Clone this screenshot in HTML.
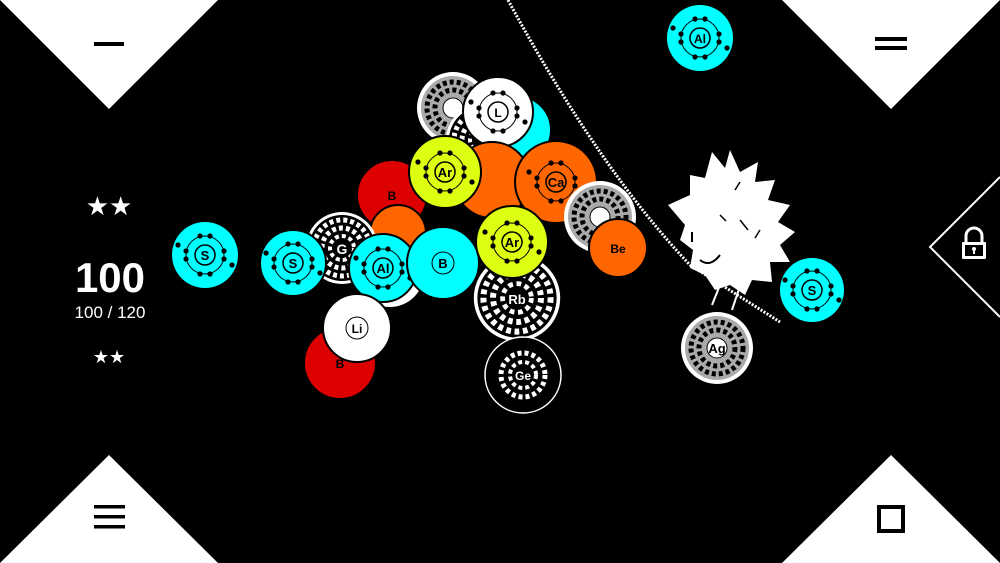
<!DOCTYPE html>
<html><head><meta charset="utf-8"><style>
html,body{margin:0;padding:0;background:#000;width:1000px;height:563px;overflow:hidden}
svg{display:block}
text{font-family:"Liberation Sans",sans-serif}
</style></head><body>
<svg width="1000" height="563" viewBox="0 0 1000 563" xmlns="http://www.w3.org/2000/svg">
<defs>
<g id="atom">
<circle r="10" fill="none" stroke="#000" stroke-width="1.5"/>
<circle r="19" fill="none" stroke="#000" stroke-width="1"/>
<circle cx="-5" cy="-19" r="2.6" fill="#000"/><circle cx="5" cy="-19" r="2.6" fill="#000"/>
<circle cx="19" cy="-4" r="2.6" fill="#000"/><circle cx="19" cy="4" r="2.6" fill="#000"/>
<circle cx="-19" cy="-4" r="2.6" fill="#000"/><circle cx="-19" cy="4" r="2.6" fill="#000"/>
<circle cx="-5" cy="19" r="2.6" fill="#000"/><circle cx="5" cy="19" r="2.6" fill="#000"/>
<circle cx="27" cy="10" r="2.6" fill="#000"/><circle cx="-27" cy="-10" r="2.6" fill="#000"/>
</g>
<g id="gray">
<circle r="36" fill="#fff"/><circle r="32" fill="#aaa"/>
<circle r="26" fill="none" stroke="#000" stroke-width="5" stroke-dasharray="4 3"/>
<circle r="18" fill="none" stroke="#000" stroke-width="5" stroke-dasharray="4 3"/>
<circle r="10" fill="#fff" stroke="#000"/>
</g>
<g id="whiteatom">
<circle r="36" fill="#fff"/><circle r="33" fill="#000"/>
<circle r="28" fill="none" stroke="#fff" stroke-width="5" stroke-dasharray="4 3"/>
<circle r="20" fill="none" stroke="#fff" stroke-width="5" stroke-dasharray="4 3"/>
<circle r="12" fill="none" stroke="#fff" stroke-width="4" stroke-dasharray="4 3"/>
</g>
</defs>

<!-- corner triangles -->
<polygon points="0,0 218,0 109,109" fill="#fff"/>
<polygon points="782,0 1000,0 891,109" fill="#fff"/>
<polygon points="0,563 218,563 109,455" fill="#fff"/>
<polygon points="782,563 1000,563 891,455" fill="#fff"/>
<rect x="94" y="42" width="30" height="4" fill="#000"/>
<rect x="875" y="37" width="32" height="4" fill="#000"/><rect x="875" y="46" width="32" height="4" fill="#000"/>
<rect x="94" y="505" width="31" height="3.5" fill="#000"/><rect x="94" y="515" width="31" height="3.5" fill="#000"/><rect x="94" y="525" width="31" height="3.5" fill="#000"/>
<rect x="879" y="507" width="24" height="24" fill="none" stroke="#000" stroke-width="4"/>
<polyline points="1000,177 930,247 1000,317" fill="none" stroke="#fff" stroke-width="2"/>
<rect x="962" y="242" width="24" height="17" fill="#fff" rx="1"/>
<rect x="965" y="245" width="18" height="11" fill="#000"/>
<path d="M966,242 v-6 a8,8 0 0 1 16,0 v6" fill="none" stroke="#fff" stroke-width="3"/>
<circle cx="974" cy="249" r="2" fill="#fff"/><rect x="973" y="249" width="2" height="5" fill="#fff"/>

<!-- score -->
<text x="109" y="215" fill="#fff" font-size="26" text-anchor="middle">★★</text>
<text x="110" y="292" fill="#fff" font-size="42" font-weight="bold" text-anchor="middle">100</text>
<text x="110" y="318" fill="#fff" font-size="17" text-anchor="middle">100 / 120</text>
<text x="109" y="363" fill="#fff" font-size="18" text-anchor="middle">★★</text>

<!-- rope -->
<path d="M508,0 Q600,170 690,265 L780,322" fill="none" stroke="#fff" stroke-width="3" stroke-dasharray="2 1.5"/>

<!-- back atoms -->
<use href="#gray" transform="translate(453,108)"/>
<use href="#whiteatom" transform="translate(482,140)"/>
<circle cx="517" cy="130" r="34" fill="#0ff" stroke="#000" stroke-width="2"/>
<circle cx="498" cy="112" r="35" fill="#fff" stroke="#000" stroke-width="2"/>
<use href="#atom" transform="translate(498,112)"/><text x="498" y="117" font-size="12" font-weight="bold" text-anchor="middle">L</text>
<circle cx="492" cy="180" r="38" fill="#f60" stroke="#000" stroke-width="2"/>
<circle cx="556" cy="182" r="41" fill="#f60" stroke="#000" stroke-width="2"/>
<use href="#atom" transform="translate(556,182)"/><text x="556" y="187" font-size="13" font-weight="bold" text-anchor="middle">Ca</text>
<use href="#gray" transform="translate(600,217)"/>
<circle cx="618" cy="248" r="29" fill="#f60" stroke="#000" stroke-width="2"/>
<text x="618" y="253" font-size="12" font-weight="bold" text-anchor="middle">Be</text>
<circle cx="392" cy="195" r="35" fill="#d00" stroke="#000" stroke-width="2"/>
<text x="392" y="200" font-size="12" font-weight="bold" text-anchor="middle">B</text>
<circle cx="445" cy="172" r="36" fill="#df1" stroke="#000" stroke-width="2"/>
<use href="#atom" transform="translate(445,172)"/><text x="445" y="177" font-size="13" font-weight="bold" text-anchor="middle">Ar</text>
<circle cx="398" cy="233" r="28" fill="#f60" stroke="#000" stroke-width="2"/>
<use href="#whiteatom" transform="translate(342,248)"/>
<text x="342" y="254" font-size="14" font-weight="bold" fill="#fff" text-anchor="middle">G</text>
<circle cx="293" cy="263" r="33" fill="#0ff" stroke="#000" stroke-width="2"/>
<use href="#atom" transform="translate(293,263)"/><text x="293" y="268" font-size="13" font-weight="bold" text-anchor="middle">S</text>
<circle cx="390" cy="273" r="34" fill="#fff"/>
<circle cx="383" cy="268" r="34" fill="#0ff" stroke="#000" stroke-width="2"/>
<use href="#atom" transform="translate(383,268)"/><text x="383" y="273" font-size="13" font-weight="bold" text-anchor="middle">Al</text>
<use href="#whiteatom" transform="translate(517,298) scale(1.2)"/>
<text x="517" y="304" font-size="13" font-weight="bold" fill="#fff" text-anchor="middle">Rb</text>
<circle cx="443" cy="263" r="36" fill="#0ff" stroke="#000" stroke-width="2"/>
<circle cx="443" cy="263" r="11" fill="none" stroke="#000"/><text x="443" y="268" font-size="13" font-weight="bold" text-anchor="middle">B</text>
<circle cx="512" cy="242" r="36" fill="#df1" stroke="#000" stroke-width="2"/>
<use href="#atom" transform="translate(512,242)"/><text x="512" y="247" font-size="13" font-weight="bold" text-anchor="middle">Ar</text>
<circle cx="523" cy="375" r="38" fill="#000" stroke="#fff" stroke-width="1.5"/>
<circle cx="523" cy="375" r="22" fill="none" stroke="#fff" stroke-width="5" stroke-dasharray="4 3"/>
<circle cx="523" cy="375" r="13" fill="none" stroke="#fff" stroke-width="4" stroke-dasharray="4 3"/>
<text x="523" y="380" font-size="12" font-weight="bold" fill="#fff" text-anchor="middle">Ge</text>
<circle cx="340" cy="363" r="36" fill="#d00" stroke="#000" stroke-width="2"/>
<text x="340" y="368" font-size="12" font-weight="bold" text-anchor="middle">B</text>
<circle cx="357" cy="328" r="34" fill="#fff" stroke="#000" stroke-width="2"/>
<circle cx="357" cy="328" r="11" fill="none" stroke="#000"/><text x="357" y="333" font-size="12" font-weight="bold" text-anchor="middle">Li</text>

<!-- lone atoms -->
<circle cx="205" cy="255" r="33" fill="#0ff"/>
<use href="#atom" transform="translate(205,255)"/><text x="205" y="260" font-size="13" font-weight="bold" text-anchor="middle">S</text>
<circle cx="700" cy="38" r="33" fill="#0ff"/>
<use href="#atom" transform="translate(700,38)"/><text x="700" y="43" font-size="12" font-weight="bold" text-anchor="middle">Al</text>
<circle cx="812" cy="290" r="32" fill="#0ff"/>
<use href="#atom" transform="translate(812,290)"/><text x="812" y="295" font-size="13" font-weight="bold" text-anchor="middle">S</text>
<use href="#gray" transform="translate(717,348)"/>
<text x="717" y="353" font-size="13" font-weight="bold" text-anchor="middle">Ag</text>

<!-- hedgehog -->
<path d="M668,205 L690,195 L690,175 L705,178 L712,152 L725,168 L730,150 L740,172 L758,162 L755,182 L775,180 L768,200 L790,205 L778,222 L795,232 L780,245 L790,262 L770,262 L772,282 L752,280 L745,295 L730,285 L715,290 L705,275 L690,268 L693,250 L680,240 L685,225 Z" fill="#fff"/>
<path d="M732,310 L742,280 M712,305 L720,285" stroke="#fff" stroke-width="2"/>
<path d="M692,232 v10 M700,260 q10,8 20,-5" stroke="#000" stroke-width="2" fill="none"/>
<path d="M735,190 l5,-8 M740,220 l8,10 M720,215 l6,6 M760,230 l-5,8" stroke="#000" stroke-width="1.5"/>
</svg>
</body></html>
